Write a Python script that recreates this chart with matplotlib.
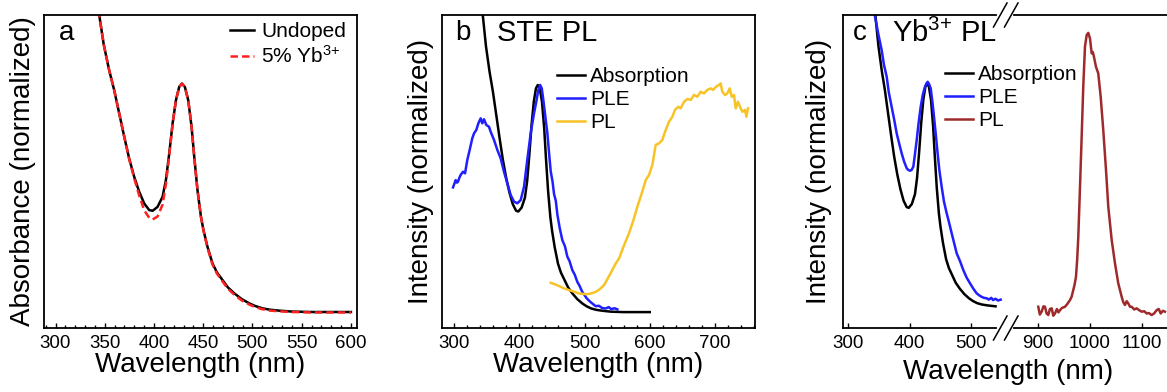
import numpy as np
import matplotlib.pyplot as plt
from matplotlib.lines import Line2D
from matplotlib.ticker import MultipleLocator, FixedLocator

plt.rcParams['font.family'] = ['Liberation Sans', 'DejaVu Sans']
plt.rcParams['mathtext.fontset'] = 'custom'
plt.rcParams['mathtext.rm'] = 'Liberation Sans'
plt.rcParams['mathtext.it'] = 'Liberation Sans:italic'

# absorption (undoped), shared by all panels
abs_wl = [338, 344.4, 349, 354.5, 359.6, 364.7, 369.8, 374.8, 379.9, 385.0, 390.1, 395.2,
          398.6, 403.6, 408.7, 412.1, 415.5, 418.9, 422.3, 425.6, 428.4, 431.4, 434.8,
          438.2, 440.9, 444.2, 447.7, 450.3, 454.3, 459.4, 464, 469.6, 475, 481.5, 489,
          496.7, 503, 510.2, 518, 527.2, 540, 560, 580, 600]
abs_und = [1.42, 1.299, 1.17, 1.058, 0.971, 0.869, 0.767, 0.672, 0.592, 0.526, 0.475, 0.446,
           0.443, 0.460, 0.504, 0.577, 0.694, 0.825, 0.927, 0.985, 1.000, 0.985, 0.927,
           0.810, 0.679, 0.533, 0.417, 0.358, 0.286, 0.213, 0.173, 0.140, 0.108, 0.082, 0.057,
           0.038, 0.026, 0.016, 0.010, 0.006, 0.002, 0.0, 0.0, 0.0]
# 5% Yb doped absorption
abs_yb = [1.42, 1.299, 1.17, 1.058, 0.971, 0.869, 0.767, 0.670, 0.585, 0.510, 0.445, 0.412,
          0.405, 0.418, 0.470, 0.560, 0.685, 0.822, 0.927, 0.985, 1.000, 0.985, 0.927,
          0.810, 0.679, 0.533, 0.417, 0.355, 0.282, 0.208, 0.168, 0.134, 0.102, 0.076, 0.051,
          0.033, 0.021, 0.012, 0.006, 0.003, 0.0, -0.002, -0.002, -0.002]

# panel b: STE PLE and PL
ple_b_wl = [298.5, 300.5, 302.6, 304.5, 306.1, 308, 310.2, 313.8, 316.9, 320.4, 324, 328,
            330.7, 334.2, 337.3, 340.9, 343.4, 346, 349.5, 353.6, 356.2, 361.3, 366.4,
            371.5, 376.6, 381.7, 386.9, 392, 395, 397, 400, 402.2, 407.3, 412.3, 417.5,
            422.6, 426.1, 429, 432, 434.5, 436.9, 440, 443, 446, 448.2, 451, 453.3, 456,
            458.4, 462, 466, 470, 473.7, 477, 481.3, 485, 489, 492, 496.6, 500, 503, 507,
            511, 517.2, 522, 527, 532.5, 537, 541, 546, 550.3]
ple_b = [0.549, 0.565, 0.581, 0.570, 0.574, 0.590, 0.604, 0.618, 0.611, 0.670, 0.714, 0.765,
         0.787, 0.802, 0.831, 0.853, 0.831, 0.849, 0.824, 0.816, 0.794, 0.758, 0.714,
         0.677, 0.618, 0.567, 0.515, 0.486, 0.482, 0.479, 0.487, 0.493, 0.552, 0.670, 0.787,
         0.875, 0.926, 0.975, 1.000, 0.985, 0.934, 0.860, 0.790, 0.690, 0.620, 0.575, 0.520,
         0.490, 0.430, 0.370, 0.317, 0.290, 0.244, 0.225, 0.185, 0.165, 0.133, 0.118, 0.089,
         0.075, 0.062, 0.050, 0.040, 0.026, 0.028, 0.018, 0.016, 0.022, 0.013, 0.017, 0.012]
pl_b_wl = [448.2, 455, 460.9, 468, 476.2, 484, 491.6, 498, 504.3, 510, 517.2, 523, 530,
           536, 542.6, 548, 552.9, 560, 568.2, 575, 581, 588, 593.8, 598.9, 604, 609.1,
           614.2, 619.3, 623.4, 629.5, 634.6, 638.7, 643.8, 647.4, 652.5, 657.6, 662.8,
           667.8, 672.9, 678.1, 683.1, 688.2, 693.4, 696.9, 702, 706.1, 708.7, 711.2,
           715.3, 718.9, 722.5, 725.6, 729.1, 731.7, 735.2, 738.3, 741.9, 746, 748, 750.6]
pl_b = [0.129, 0.122, 0.115, 0.105, 0.097, 0.090, 0.082, 0.080, 0.079, 0.082, 0.089, 0.100,
        0.119, 0.150, 0.185, 0.215, 0.236, 0.290, 0.347, 0.405, 0.464, 0.525, 0.581, 0.604,
        0.648, 0.736, 0.743, 0.758, 0.794, 0.838, 0.860, 0.890, 0.904, 0.897, 0.926, 0.938,
        0.934, 0.956, 0.948, 0.970, 0.963, 0.978, 0.985, 0.978, 0.993, 1.000, 1.007, 0.970,
        0.956, 0.963, 0.985, 0.948, 0.956, 0.897, 0.926, 0.904, 0.882, 0.890, 0.860, 0.897]

# panel c: Yb PLE and Yb PL
ple_c_wl = [340, 343.5, 349, 354.4, 358, 362.6, 366, 370.7, 375, 378.9, 383, 387.0, 391,
            395.2, 398, 400.6, 403, 406.0, 408.5, 411.5, 414.5, 418.0, 421.5, 425.0, 427.5,
            429.4, 431.5, 434.3, 437, 439.7, 442.5, 445.1, 448.5, 452.2, 456, 460.4, 464,
            468.5, 472.5, 476.7, 482, 487.5, 493, 498.4, 504, 509.3, 513, 517, 521, 525.6,
            529, 533, 536, 540, 544, 548.4]
ple_c = [1.40, 1.30, 1.22, 1.149, 1.085, 1.030, 0.960, 0.895, 0.835, 0.776, 0.730, 0.687,
         0.650, 0.620, 0.612, 0.609, 0.612, 0.627, 0.680, 0.746, 0.820, 0.895, 0.950, 0.985,
         1.000, 1.007, 0.998, 0.978, 0.920, 0.850, 0.775, 0.700, 0.610, 0.537, 0.470, 0.418,
         0.380, 0.329, 0.285, 0.239, 0.205, 0.164, 0.130, 0.105, 0.080, 0.060, 0.052, 0.045,
         0.040, 0.038, 0.032, 0.040, 0.030, 0.036, 0.028, 0.032]
pl_c_wl = [900, 903, 906.5, 910, 913, 916, 919.3, 922.5, 925.9, 929, 932.3, 936, 939, 942,
           946, 951.6, 956, 961.3, 964.5, 967.7, 970.3, 972.9, 975.2, 977.4, 980.7, 983.9,
           987.0, 990.3, 993.6, 996.7, 1000.0, 1003.3, 1005.5, 1007.7, 1011.6, 1016.0,
           1020.7, 1025.7, 1031.0, 1035.4, 1042.0, 1048.4, 1054.7, 1061.3, 1064.5, 1067.7,
           1071, 1074.1, 1077.5, 1080.7, 1085.5, 1090.3, 1095, 1100.0, 1105, 1109.7, 1114,
           1119.3, 1124, 1129.0, 1133, 1136.8, 1141, 1145.0]
pl_c = [0.000, -0.035, -0.022, 0.002, 0.000, -0.030, -0.037, -0.010, -0.007, -0.040, -0.030,
        -0.010, -0.025, -0.015, -0.005, 0.000, 0.012, 0.030, 0.045, 0.075, 0.100, 0.134, 0.210,
        0.313, 0.537, 0.761, 0.985, 1.164, 1.216, 1.226, 1.201, 1.134, 1.140, 1.119, 1.074,
        1.045, 0.940, 0.791, 0.612, 0.448, 0.299, 0.194, 0.105, 0.045, 0.020, 0.008, 0.025,
        0.015, 0.000, 0.000, -0.012, -0.007, -0.015, -0.022, -0.020, -0.030, -0.028, -0.037,
        -0.030, -0.015, -0.010, -0.030, -0.018, -0.022]

W, H = 1167, 392
fig = plt.figure(figsize=(W / 100, H / 100), dpi=100)


def px_axes(left, right, top=15, bottom=328):
    return fig.add_axes([left / W, 1 - bottom / H, (right - left) / W, (bottom - top) / H])


def style(ax, fs=13.5):
    ax.set_yticks([])
    ax.tick_params(axis='x', direction='in', labelsize=fs, pad=5, width=1.0,
                   length=3.5, top=False)
    ax.tick_params(axis='x', which='minor', direction='in', length=2, width=1.0, top=False)
    for s in ax.spines.values():
        s.set_linewidth(1.3)


LW = 1.8
fs_lab = 20
fs_leg = 15

# ---- a ----
ax1 = px_axes(44, 357)
ax1.plot(abs_wl, abs_und, color='black', lw=LW, label='Undoped')
ax1.plot(abs_wl, abs_yb, color='#ff2020', lw=LW, ls=(0, (3, 1.6)), label='5% Yb$^{3{+}}$')
ax1.set_xlim(288.3, 606.2)
ax1.set_ylim(-0.07, 1.30)
ax1.xaxis.set_major_locator(MultipleLocator(50))
ax1.xaxis.set_minor_locator(MultipleLocator(10))
style(ax1)
ax1.set_xlabel('Wavelength (nm)', fontsize=fs_lab, labelpad=0)
ax1.set_ylabel('Absorbance (normalized)', fontsize=fs_lab, labelpad=6)
ax1.text(0.048, 0.942, 'a', transform=ax1.transAxes, fontsize=20, va='center')
ax1.legend(loc='upper left', bbox_to_anchor=(230 / W, 1 - 22 / H), bbox_transform=fig.transFigure,
           frameon=False, fontsize=fs_leg, handlelength=1.15, handletextpad=0.35,
           labelspacing=0.2, borderpad=0, borderaxespad=0)

# ---- b ----
ax2 = px_axes(442, 755)
ax2.plot(abs_wl, abs_und, color='black', lw=LW, label='Absorption')
ax2.plot(ple_b_wl, ple_b, color='#1f1fff', lw=LW, label='PLE')
ax2.plot(pl_b_wl, pl_b, color='#f7c327', lw=LW, label='PL')
ax2.set_xlim(281.6, 761.3)
ax2.set_ylim(-0.07, 1.308)
ax2.xaxis.set_major_locator(MultipleLocator(100))
ax2.xaxis.set_minor_locator(MultipleLocator(20))
style(ax2)
ax2.set_xlabel('Wavelength (nm)', fontsize=fs_lab, labelpad=0)
ax2.set_ylabel('Intensity (normalized)', fontsize=fs_lab, labelpad=6)
ax2.text(0.042, 0.942, 'b', transform=ax2.transAxes, fontsize=20, va='center')
ax2.text(0.176, 0.942, 'STE PL', transform=ax2.transAxes, fontsize=21, va='center')
ax2.legend(loc='upper left', bbox_to_anchor=(557 / W, 1 - 67 / H), bbox_transform=fig.transFigure,
           frameon=False, fontsize=fs_leg, handlelength=1.35, handletextpad=0.25,
           labelspacing=0.2, borderpad=0, borderaxespad=0)

# ---- c (broken axis) ----
ax3 = px_axes(843, 1005)
ax4 = px_axes(1005, 1167)
abs_c_wl = [w for w in abs_wl if w <= 550]
abs_c = abs_und[:len(abs_c_wl)]
l1, = ax3.plot(abs_c_wl, abs_c, color='black', lw=LW, label='Absorption')
l2, = ax3.plot(ple_c_wl, ple_c, color='#1f1fff', lw=LW, label='PLE')
l3, = ax4.plot(pl_c_wl, pl_c, color='#9e2a2b', lw=LW, label='PL')
ax3.set_xlim(291.4, 555.4)
ax4.set_xlim(835.6, 1149)
for ax in (ax3, ax4):
    ax.set_ylim(-0.095, 1.306)
    style(ax)
ax3.xaxis.set_major_locator(FixedLocator([300, 400, 500]))
ax4.xaxis.set_major_locator(FixedLocator([900, 1000, 1100]))
ax3.spines['right'].set_visible(False)
ax4.spines['left'].set_visible(False)
ax4.spines['right'].set_visible(False)
ax4.patch.set_alpha(0)
ax3.set_ylabel('Intensity (normalized)', fontsize=fs_lab, labelpad=8)
fig.text(1008 / W, 1 - 372 / H, 'Wavelength (nm)', fontsize=fs_lab, ha='center', va='center')
ax3.text(0.062, 0.942, 'c', transform=ax3.transAxes, fontsize=20, va='center')
ax3.text(0.302, 0.942, 'Yb$^{3{+}}$ PL', transform=ax3.transAxes, fontsize=21, va='center')
fig.legend(handles=[l1, l2, l3], loc='upper left', bbox_to_anchor=(945 / W, 1 - 65 / H),
           frameon=False, fontsize=fs_leg, handlelength=1.35, handletextpad=0.25,
           labelspacing=0.2, borderpad=0, borderaxespad=0)

# break marks
for yc in (15, 328):
    fig.add_artist(Line2D([999 / W, 1011 / W], [1 - yc / H] * 2, color='white', lw=3,
                          transform=fig.transFigure, zorder=10))
    for x0 in (993.5, 1004.5):
        fig.add_artist(Line2D([x0 / W, (x0 + 13.5) / W], [1 - (yc + 12) / H, 1 - (yc - 12) / H],
                              color='black', lw=1.1, transform=fig.transFigure, zorder=11))

fig.savefig('out.png', dpi=100)
